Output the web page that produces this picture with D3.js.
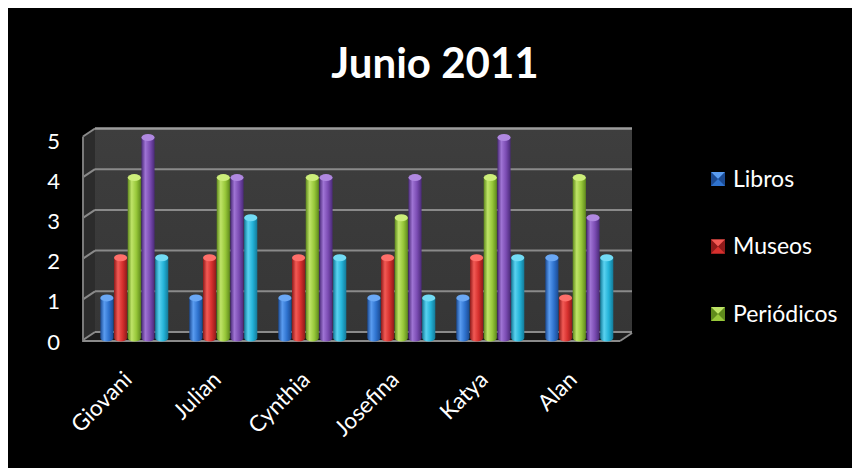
<!DOCTYPE html>
<html><head><meta charset="utf-8">
<script src="https://cdn.jsdelivr.net/npm/d3@7"></script>
<style>
html,body{margin:0;background:#fff}
svg{display:block}
text{font-family:Lato,"Noto Sans",sans-serif;fill:#fff}
</style>
</head><body>
<svg id="chart" width="852" height="468"></svg>
<script>
// Readings per person, one array per series
const categories = ["Giovani", "Julian", "Cynthia", "Josefina", "Katya", "Alan"];
const seriesNames = ["Libros", "Museos", "Periódicos", "Serie 4", "Serie 5"];
const libros     = [1, 1, 1, 1, 1, 2];
const museos     = [2, 2, 2, 2, 2, 1];
const periodicos = [4, 4, 4, 3, 4, 4];
const serie4     = [5, 4, 4, 4, 5, 3];
const serie5     = [2, 3, 2, 1, 2, 2];
const yTicks = [0, 1, 2, 3, 4, 5];
const titleText = "Junio 2011";
const legendCount = 3; // entries that fit in the legend box

const seriesValues = [libros, museos, periodicos, serie4, serie5];
const palette = [
  {dark: "#1b4a92", base: "#2f73cf", light: "#5a9cf0", top: "#6aa8f5"},
  {dark: "#8e1a1a", base: "#d6302e", light: "#f25a55", top: "#ff6f6a"},
  {dark: "#5f8a1c", base: "#98c83a", light: "#bfe468", top: "#cdee7a"},
  {dark: "#4a2a78", base: "#7b4cb3", light: "#9f74d4", top: "#b088e0"},
  {dark: "#137a99", base: "#24b3d8", light: "#5ad2f0", top: "#72dcf5"}
];

const svg = d3.select("#chart");
const defs = svg.append("defs");

// chart area
svg.append("rect").attr("x", 8).attr("y", 8).attr("width", 844).attr("height", 460).attr("fill", "#000");

// 3D box geometry: front plane plus depth offset
const front = {x0: 83, x1: 620};
const depth = {dx: 12, dy: -8};
const yFront = d3.scaleLinear().domain([0, 5]).range([340, 136.5]);
const yBack = v => yFront(v) + depth.dy;
const yBar = d3.scaleLinear().domain([0, 5]).range([338, 137.5]);
const yLabel = d3.scaleLinear().domain([0, 5]).range([342, 141.5]);

const x0 = d3.scaleBand().domain(categories).range([89.8, 623.8]).paddingInner(0.236).paddingOuter(0.118);
const x1 = d3.scaleBand().domain(seriesNames).range([0, x0.bandwidth()]).paddingInner(0.04);

// walls
const bx0 = front.x0 + depth.dx, bx1 = front.x1 + depth.dx;
const wallGrad = defs.append("linearGradient").attr("id", "wall").attr("x1", 0).attr("y1", 0).attr("x2", 0).attr("y2", 1);
wallGrad.append("stop").attr("offset", 0).attr("stop-color", "#3e3e3e");
wallGrad.append("stop").attr("offset", 1).attr("stop-color", "#363636");
svg.append("rect").attr("x", bx0).attr("y", yBack(5)).attr("width", bx1 - bx0).attr("height", yBack(0) - yBack(5)).attr("fill", "url(#wall)");
svg.append("path").attr("fill", "#2c2c2c")
  .attr("d", `M${front.x0},${yFront(5)}L${bx0},${yBack(5)}L${bx0},${yBack(0)}L${front.x0},${yFront(0)}Z`);
// floor
svg.append("path").attr("fill", "#1c1c1c")
  .attr("d", `M${front.x0},${yFront(0)}L${bx0},${yBack(0)}L${bx1},${yBack(0)}L${front.x1},${yFront(0)}Z`);

// gridlines on back and side walls
const grid = svg.append("g").attr("stroke", "#8a8a8a").attr("stroke-width", 2).attr("fill", "none");
yTicks.forEach(v => {
  grid.append("line").attr("x1", bx0).attr("x2", bx1).attr("y1", yBack(v)).attr("y2", yBack(v))
    .attr("stroke", v === 5 ? "#9c9c9c" : "#8a8a8a").attr("stroke-width", v === 5 ? 2.5 : 2);
  grid.append("line").attr("x1", front.x0).attr("x2", bx0).attr("y1", yFront(v)).attr("y2", yBack(v));
});
grid.append("line").attr("x1", front.x0).attr("x2", front.x0).attr("y1", yFront(5)).attr("y2", yFront(0) + 2).attr("stroke", "#7a7a7a");
grid.append("line").attr("x1", front.x0).attr("x2", front.x1).attr("y1", yFront(0) + 1).attr("y2", yFront(0) + 1).attr("stroke", "#8a8a8a");
grid.append("line").attr("x1", front.x1).attr("x2", bx1).attr("y1", yFront(0) + 1).attr("y2", yBack(0) + 1).attr("stroke", "#8a8a8a");

// bar gradients
palette.forEach((c, i) => {
  const g = defs.append("linearGradient").attr("id", "bar" + i).attr("x1", 0).attr("x2", 1).attr("y1", 0).attr("y2", 0);
  g.append("stop").attr("offset", 0).attr("stop-color", c.dark);
  g.append("stop").attr("offset", 0.3).attr("stop-color", c.light);
  g.append("stop").attr("offset", 0.65).attr("stop-color", c.base);
  g.append("stop").attr("offset", 1).attr("stop-color", c.dark);
});

// cylinders
const bw = x1.bandwidth();
const ry = 3.5;
categories.forEach((cat, ci) => {
  const grp = svg.append("g").attr("transform", `translate(${x0(cat)},0)`);
  seriesNames.forEach((s, si) => {
    const v = seriesValues[si][ci];
    const x = x1(s);
    const top = yBar(v), bot = yBar(0);
    grp.append("path").attr("fill", `url(#bar${si})`)
      .attr("d", `M${x},${top}L${x},${bot}A${bw / 2},${ry} 0 0 0 ${x + bw},${bot}L${x + bw},${top}Z`);
    grp.append("ellipse").attr("cx", x + bw / 2).attr("cy", top).attr("rx", bw / 2).attr("ry", ry)
      .attr("fill", palette[si].top);
  });
});

// value axis labels
const yAxis = svg.append("g").attr("transform", "translate(60,0)")
  .call(d3.axisLeft(yLabel).tickValues(yTicks).tickSize(0).tickPadding(0).tickFormat(d3.format("d")));
yAxis.select(".domain").remove();
yAxis.selectAll("text").attr("fill", "#fff").style("font-size", "22px").style("font-family", "Lato, 'Noto Sans', sans-serif");

// category labels
const xAxis = svg.append("g").attr("transform", "translate(-1,381)")
  .call(d3.axisBottom(x0).tickSize(0).tickPadding(0));
xAxis.select(".domain").remove();
xAxis.selectAll("text").attr("fill", "#fff").attr("y", 0).attr("dy", 0)
  .attr("text-anchor", "end").attr("transform", "rotate(-45)")
  .style("font-size", "22.5px").style("font-family", "Lato, 'Noto Sans', sans-serif");

// title
svg.append("text").attr("x", 435).attr("y", 78).attr("text-anchor", "middle")
  .style("font-size", "42px").style("font-weight", "bold").text(titleText);

// legend with bevelled swatches
const legend = svg.append("g");
const sw = 14;
seriesNames.slice(0, legendCount).forEach((name, i) => {
  const y = 172 + i * 67.5;
  const c = palette[i];
  const g = legend.append("g").attr("transform", `translate(711,${y})`);
  g.append("rect").attr("width", sw).attr("height", sw).attr("fill", c.base);
  g.append("path").attr("d", `M0,0L${sw},0L${sw / 2},${sw / 2}Z`).attr("fill", c.light);
  g.append("path").attr("d", `M0,${sw}L${sw},${sw}L${sw / 2},${sw / 2}Z`).attr("fill", c.base);
  g.append("path").attr("d", `M0,0L${sw / 2},${sw / 2}L0,${sw}Z`).attr("fill", c.dark);
  g.append("path").attr("d", `M${sw},0L${sw / 2},${sw / 2}L${sw},${sw}Z`).attr("fill", c.dark);
  legend.append("text").attr("x", 733).attr("y", y + 14.5).style("font-size", "23px").text(name);
});
</script>
</body></html>
